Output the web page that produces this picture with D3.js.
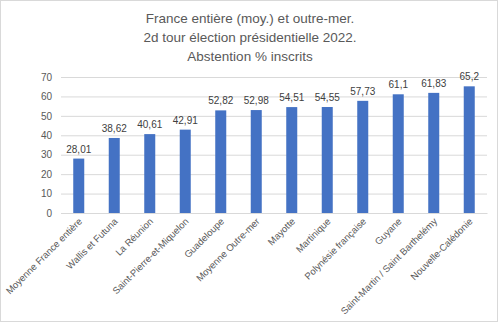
<!DOCTYPE html>
<html>
<head>
<meta charset="utf-8">
<script src="https://cdn.jsdelivr.net/npm/d3@7"></script>
<style>
  html, body { margin: 0; padding: 0; background: #fff; }
  svg { display: block; font-family: "Liberation Sans", "DejaVu Sans", sans-serif; }
</style>
</head>
<body>
<svg id="chart" width="500" height="324"></svg>
<script>
// Abstention, second round of the 2022 presidential election
const categories = [
  "Moyenne France entière", "Wallis et Futuna", "La Réunion",
  "Saint-Pierre-et-Miquelon", "Guadeloupe", "Moyenne Outre-mer",
  "Mayotte", "Martinique", "Polynésie française", "Guyane",
  "Saint-Martin / Saint Barthelémy", "Nouvelle-Calédonie"
];
const values = [28.01, 38.62, 40.61, 42.91, 52.82, 52.98, 54.51, 54.55, 57.73, 61.1, 61.83, 65.2];
const yTicks = [0, 10, 20, 30, 40, 50, 60, 70];
const titleLines = [
  "France entière (moy.) et outre-mer.",
  "2d tour élection présidentielle 2022.",
  "Abstention % inscrits"
];

const svg = d3.select("#chart");
const W = 500, H = 324;
const plot = { left: 61, right: 487, top: 77, bottom: 213 };
const textColor = "#595959";

// chart frame
svg.append("rect")
  .attr("x", 0.5).attr("y", 0.5)
  .attr("width", W - 3).attr("height", H - 3)
  .attr("fill", "#fff").attr("stroke", "#d9d9d9");

// title
svg.append("g").selectAll("text").data(titleLines).join("text")
  .attr("x", W / 2)
  .attr("y", (d, i) => 23 + i * 19)
  .attr("text-anchor", "middle")
  .attr("fill", textColor)
  .attr("font-size", 13.5)
  .text(d => d);

const x = d3.scaleBand().domain(categories).range([plot.left, plot.right]).paddingInner(0.69).paddingOuter(0.345);
const y = d3.scaleLinear().domain([0, 70]).range([plot.bottom, plot.top]);

// gridlines + y labels
const yAxis = d3.axisLeft(y).tickValues(yTicks).tickSize(-(plot.right - plot.left)).tickPadding(9);
const gy = svg.append("g").attr("transform", `translate(${plot.left},0)`).call(yAxis);
gy.select(".domain").remove();
gy.selectAll(".tick line").attr("stroke", "#d9d9d9").attr("stroke-width", 1);
gy.selectAll(".tick text").attr("fill", textColor).attr("font-size", 10).attr("font-family", "Liberation Sans, sans-serif");

// bars
svg.append("g").selectAll("rect").data(values).join("rect")
  .attr("x", (d, i) => x(categories[i]))
  .attr("y", d => y(d))
  .attr("width", x.bandwidth())
  .attr("height", d => y(0) - y(d))
  .attr("fill", "#4472c4");

// value labels
svg.append("g").selectAll("text").data(values).join("text")
  .attr("x", (d, i) => x(categories[i]) + x.bandwidth() / 2)
  .attr("y", d => y(d) - 6)
  .attr("text-anchor", "middle")
  .attr("fill", "#404040")
  .attr("font-size", 10)
  .text(d => String(d).replace(".", ","));

// category labels, rotated
const xAxis = d3.axisBottom(x).tickSize(0).tickPadding(0);
const gx = svg.append("g").attr("transform", `translate(0,${plot.bottom})`).call(xAxis);
gx.select(".domain").attr("stroke", "#d9d9d9");
gx.selectAll(".tick text")
  .attr("fill", textColor)
  .attr("font-size", 9.5)
  .attr("font-family", "Liberation Sans, sans-serif")
  .attr("text-anchor", "end")
  .attr("dy", 0)
  .attr("transform", "translate(4,9) rotate(-45)");
</script>
</body>
</html>
